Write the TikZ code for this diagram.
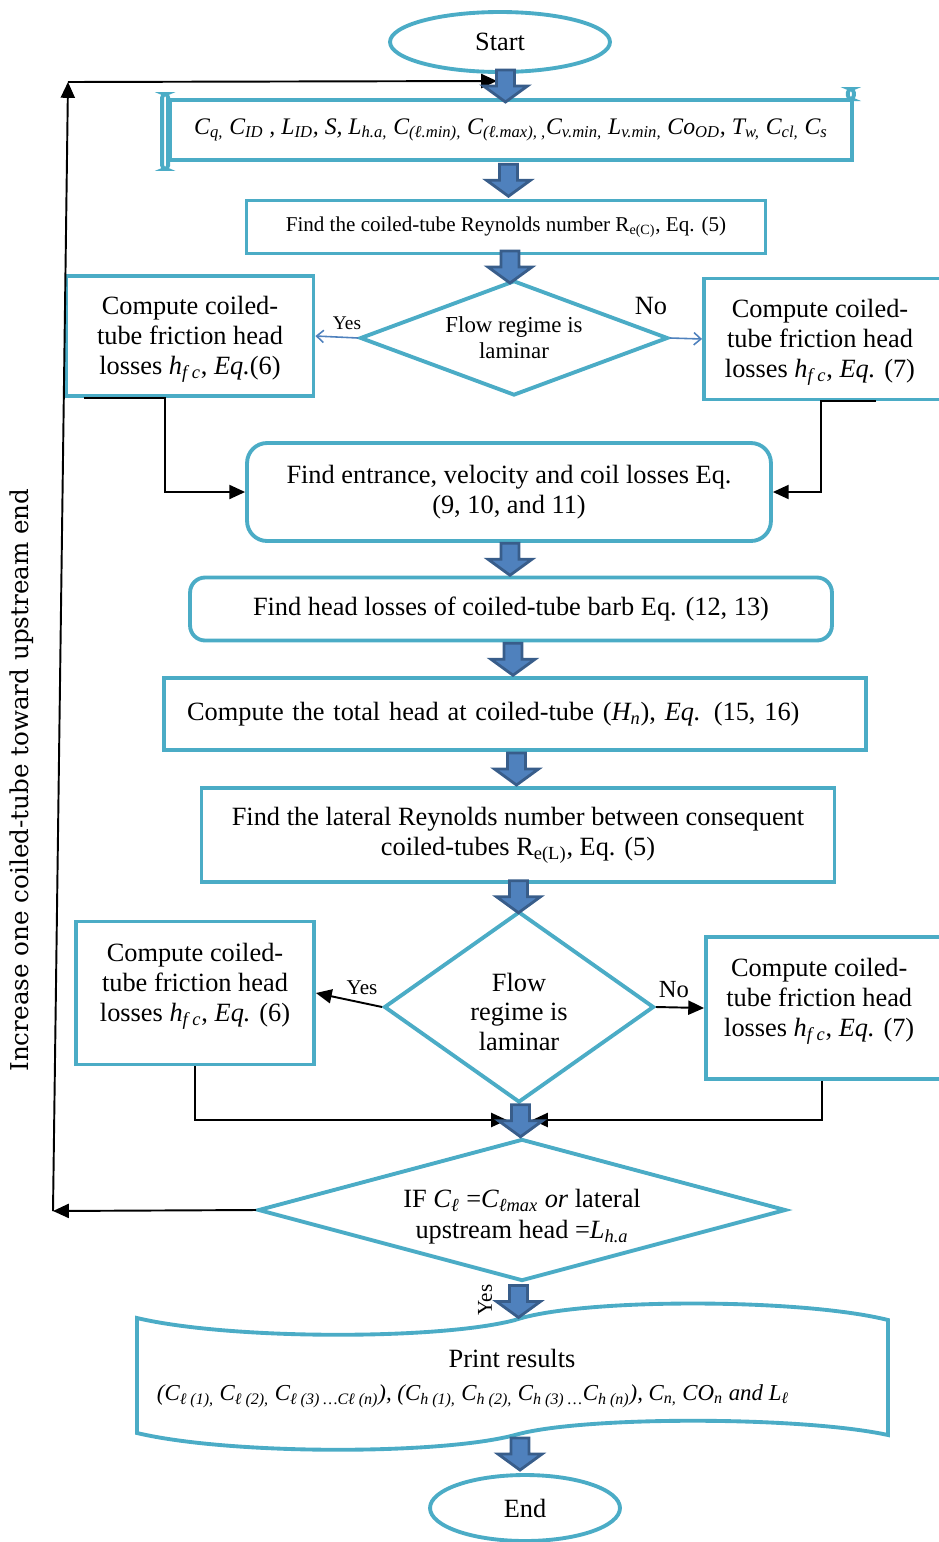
\documentclass[tikz,border=0pt]{standalone}
\usepackage{fontspec}
\setmainfont{Liberation Serif}
\newfontfamily\sidefont{DejaVu Serif}
\usetikzlibrary{positioning,calc,shapes.geometric,arrows.meta}
\definecolor{boxline}{RGB}{75,172,198}
\definecolor{arrfill}{RGB}{79,129,189}
\definecolor{arrline}{RGB}{56,93,138}
\newcommand{\sbs}[1]{\textsubscript{#1}}
\tikzset{
  blockdown/.pic={\draw[arrline,line width=1.6pt,fill=arrfill,line join=miter]
    (-9,-16) -- (9,-16) -- (9,0) -- (22,0) -- (0,16) -- (-22,0) -- (-9,0) -- cycle;},
  box/.style={draw=boxline,line width=2.2pt,fill=white,align=center,inner sep=0pt,
    font=\fontsize{15}{17}\selectfont},
  flow/.style={draw=black,line width=1.1pt,-{Triangle[length=9pt,width=8pt]}},
  yesno/.style={draw=arrfill,line width=0.9pt,-{Straight Barb[length=4pt,width=7pt]}},
  lbl/.style={inner sep=0pt,font=\fontsize{12}{14}\selectfont}
}
\begin{document}
\begin{tikzpicture}[x=0.02cm,y=-0.02cm]
\useasboundingbox (0,0) rectangle (938,1542);
% print results outline
\draw[boxline,line width=2.2pt,fill=white]
  (137,1318) .. controls (230,1340) and (440,1340) .. (515,1320)
  .. controls (580,1298) and (800,1298) .. (888,1320) -- (888,1435)
  .. controls (800,1416) and (580,1416) .. (515,1435)
  .. controls (440,1455) and (230,1455) .. (137,1433) -- cycle;
\coordinate (ptop) at (515,1320);
\coordinate (pbot) at (515,1435);
% nodes
\node[box,ellipse,minimum width=4.4cm,minimum height=1.2cm] (start) at (500,42) {Start};
\node[box,minimum width=13.64cm,minimum height=1.2cm,font=\fontsize{13.5}{16}\selectfont\itshape] (input) at (511,130)
  {\raisebox{3pt}{C\sbs{q,} C\sbs{ID} , L\sbs{ID}, S, L\sbs{h.a,} C\sbs{(ℓ.min),} C\sbs{(ℓ.max), ,}C\sbs{v.min,} L\sbs{v.min,} Co\sbs{OD}, T\sbs{w,} C\sbs{cl,} C\sbs{s}}};
\draw[boxline,line width=2.2pt,fill=white,rounded corners=2pt] ($(input.north west)+(-6,-4)$) rectangle ($(input.south west)+(0,7)$);
\draw[boxline,line width=2.2pt,fill=white,rounded corners=2pt] ($(input.north east)+(-6,1)$) rectangle ($(input.north east)+(0,-9)$);
\node[box,minimum width=10.38cm,minimum height=1.06cm,font=\fontsize{12}{14}\selectfont] (reyc) at (506,227)
  {Find the coiled-tube Reynolds number R\sbs{e(C)}, Eq. (5)};
\node[box,diamond,aspect=2.68,minimum width=6.16cm,minimum height=2.3cm,font=\fontsize{13}{15}\selectfont] (flow1) at (514,338)
  {Flow regime is\\laminar};
\node[box,minimum width=4.94cm,minimum height=2.4cm] (lbox1) at (190,336)
  {\rule{0pt}{14pt}Compute coiled-\\tube friction head\\losses \textit{h}\sbs{\textit{f c}}, \textit{Eq.}(6)};
\node[box,minimum width=4.92cm,minimum height=2.42cm] (rbox1) at (827,339)
  {\hspace*{-8pt}\rule{0pt}{14pt}Compute coiled-\\\hspace*{-8pt}tube friction head\\\hspace*{-8pt}losses \textit{h}\sbs{\textit{f c}}, \textit{Eq.} (7)};
\node[box,rounded corners=0.4cm,minimum width=10.48cm,minimum height=1.96cm] (entr) at (509,492)
  {Find entrance, velocity and coil losses Eq.\\(9, 10, and 11)};
\node[box,rounded corners=0.3cm,minimum width=12.84cm,minimum height=1.26cm] (barb) at (511,609)
  {Find head losses of coiled-tube barb Eq. (12, 13)};
\node[box,minimum width=14.04cm,minimum height=1.44cm,text width=13.12cm,align=left] (total) at (515,714)
  {\raisebox{2pt}{Compute the total head at coiled-tube (\textit{H\sbs{n}}), \textit{Eq.} (15, 16)}};
\node[box,minimum width=12.66cm,minimum height=1.88cm] (latre) at (518,835)
  {Find the lateral Reynolds number between consequent\\coiled-tubes R\sbs{e(L)}, Eq. (5)};
\node[box,diamond,aspect=1.41,minimum width=5.4cm,minimum height=3.82cm] (flow2) at (519,1007)
  {\rule{0pt}{16pt}Flow\\regime is\\laminar};
\node[box,minimum width=4.76cm,minimum height=2.86cm] (lbox2) at (195,993)
  {Compute coiled-\\tube friction head\\losses \textit{h}\sbs{\textit{f c}}, \textit{Eq.} (6)\\[-5pt]};
\node[box,minimum width=4.88cm,minimum height=2.84cm] (rbox2) at (828,1008)
  {\hspace*{-10pt}Compute coiled-\\\hspace*{-10pt}tube friction head\\\hspace*{-10pt}losses \textit{h}\sbs{\textit{f c}}, \textit{Eq.} (7)\\[-5pt]};
\node[box,diamond,aspect=3.72,minimum width=10.56cm,minimum height=2.84cm,font=\fontsize{15}{18}\selectfont] (cond) at (522,1210)
  {\rule{0pt}{18pt}IF \textit{C}\sbs{\textit{ℓ}} =\textit{C}\sbs{\textit{ℓmax}} \textit{or} lateral\\upstream head =\textit{L}\sbs{\textit{h.a}}};
\node[font=\fontsize{15}{17}\selectfont] (print) at (512,1358) {Print results};
\node[font=\fontsize{13}{15}\selectfont\itshape] (plist) at (473,1396)
  {(C\sbs{ℓ (1),} C\sbs{ℓ (2),} C\sbs{ℓ (3) …Cℓ (n)}), (C\sbs{h (1),} C\sbs{h (2),} C\sbs{h (3) …}C\sbs{h (n)}), C\sbs{n,} CO\sbs{n} and L\sbs{ℓ}};
\node[box,ellipse,minimum width=3.8cm,minimum height=1.32cm] (endn) at (525,1508) {End};
\node[rotate=90,font=\sidefont\fontsize{14}{16}\selectfont] (note) at (22,780) {Increase one coiled-tube toward upstream end};
% labels
\node[lbl,font=\fontsize{11}{13}\selectfont] (yes1) at (347,323) {Yes};
\node[lbl,font=\fontsize{15}{17}\selectfont] (no1) at (651,306) {No};
\node[lbl] (yes2) at (362,988) {Yes};
\node[lbl,font=\fontsize{14}{16}\selectfont] (no2) at (674,990) {No};
\node[lbl,rotate=90] (yes3) at (485,1300) {Yes};
% branches
\draw[yesno] (flow1.west) -- (lbox1.east);
\draw[yesno] (flow1.east) -- (rbox1.west);
\draw[flow] ($(lbox1.south west)+(19,0)$) -- ++(81,0) |- (entr.west);
\draw[flow] ($(rbox1.south west)+(174,0)$) -- ++(-55,0) |- (entr.east);
\draw[flow] (flow2.west) -- (lbox2.east);
\draw[flow] (flow2.east) -- (rbox2.west);
\coordinate (join) at (518,1120);
\draw[flow] (lbox2.south) |- ($(join)+(-11,0)$);
\draw[flow] ($(rbox2.south)+(-6,0)$) |- ($(join)+(14,0)$);
% loop back
\coordinate (lb) at (53,1211);
\coordinate (lt) at (68,82);
\coordinate (inarr) at (497,81);
\draw[flow] (cond.west) -- (lb);
\draw[flow] (lb) -- (lt);
\draw[flow] (lt) -- (inarr);
% block arrows
\pic at ($(start.south)!0.5!(input.north)$) {blockdown};
\pic at ($(input.south)!0.5!(reyc.north)$) {blockdown};
\pic at ($(reyc.south)!0.5!(flow1.north)$) {blockdown};
\pic at ($(entr.south)!0.5!(barb.north)$) {blockdown};
\pic at ($(barb.south)!0.5!(total.north)$) {blockdown};
\pic at ($(total.south)!0.5!(latre.north)$) {blockdown};
\pic at ($(latre.south)!0.5!(flow2.north)$) {blockdown};
\pic at ($(flow2.south)!0.5!(cond.north)$) {blockdown};
\pic at ($(cond.south)!0.5!(ptop)$) {blockdown};
\pic at ($(pbot)!0.5!(endn.north)$) {blockdown};
\end{tikzpicture}
\end{document}
